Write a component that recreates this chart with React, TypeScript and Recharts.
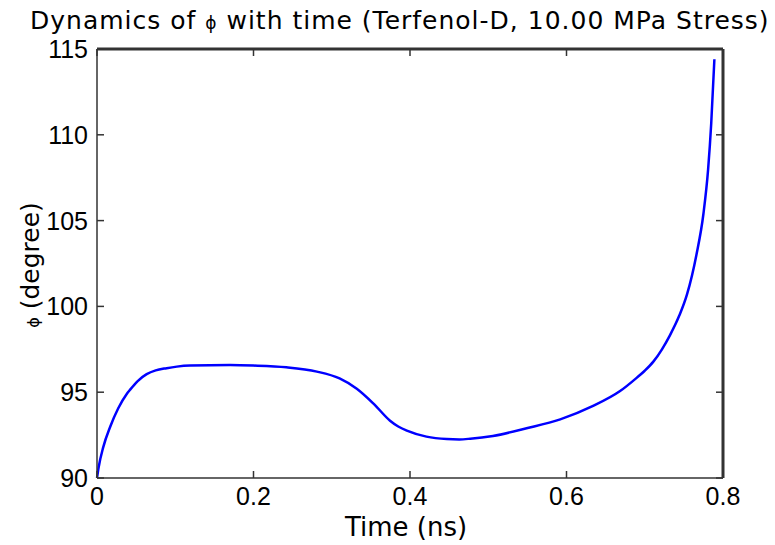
import { LineChart, Line, XAxis, YAxis, CartesianGrid } from 'recharts';

// phi(t)
const TIME_NS = [
  0, 0.002, 0.008, 0.017, 0.027, 0.038, 0.042, 0.052, 0.0635, 0.075, 0.089,
  0.102, 0.119, 0.17, 0.2, 0.242, 0.281, 0.31, 0.332, 0.353, 0.3745, 0.385,
  0.396, 0.421, 0.447, 0.463, 0.477, 0.506, 0.549, 0.592, 0.634, 0.668, 0.69,
  0.7, 0.711, 0.722, 0.732, 0.744, 0.754, 0.766, 0.775, 0.781, 0.785, 0.789,
];
const PHI_DEG = [
  90.0, 90.6, 91.8, 93.0, 94.05, 94.9, 95.13, 95.65, 96.05, 96.27, 96.4,
  96.49, 96.55, 96.58, 96.55, 96.45, 96.2, 95.8, 95.2, 94.35, 93.34, 93.0,
  92.76, 92.41, 92.27, 92.25, 92.29, 92.45, 92.9, 93.42, 94.2, 95.05, 95.85,
  96.25, 96.78, 97.5, 98.3, 99.45, 100.7, 103.0, 105.4, 108.0, 110.7, 114.4,
];
const X_TICKS = [0, 0.2, 0.4, 0.6, 0.8];
const Y_TICKS = [90, 95, 100, 105, 110, 115];
const X_MAX = 0.8;
const Y_MAX = 115;

const data = TIME_NS.map((t, i) => ({ t, phi: PHI_DEG[i] }));

const W = 775;
const H = 545;
const MARGIN = { top: 49, right: 52, bottom: 0, left: 37 };
const Y_AXIS_W = 60;
const X_AXIS_H = 67;
const PLOT_W = W - MARGIN.left - MARGIN.right - Y_AXIS_W;
const PLOT_H = H - MARGIN.top - MARGIN.bottom - X_AXIS_H;

const AXIS = '#333';
const AXIS_W = 1.5;
const TICK_LEN = 7;
const TICK_FONT = '"Liberation Sans", Arial, sans-serif';
const LABEL_FONT = '"DejaVu Sans", Verdana, sans-serif';

const fmtX = (v: number) => (v === 0 ? '0' : String(v));

// bottom tick + mirrored tick on the top edge
function BottomTick({ x, y, payload }: any) {
  const top = y - PLOT_H;
  return (
    <g>
      <line x1={x} y1={y} x2={x} y2={y - TICK_LEN} stroke={AXIS} strokeWidth={AXIS_W} />
      <line x1={x} y1={top} x2={x} y2={top + TICK_LEN} stroke={AXIS} strokeWidth={AXIS_W} />
      <text x={x} y={y + 27} textAnchor="middle" fontSize={25} fontFamily={TICK_FONT} fill="#000">
        {fmtX(payload.value)}
      </text>
    </g>
  );
}

// left tick + mirrored tick on the right edge
function LeftTick({ x, y, payload }: any) {
  const right = x + PLOT_W;
  return (
    <g>
      <line x1={x} y1={y} x2={x + TICK_LEN} y2={y} stroke={AXIS} strokeWidth={AXIS_W} />
      <line x1={right} y1={y} x2={right - TICK_LEN} y2={y} stroke={AXIS} strokeWidth={AXIS_W} />
      <text x={x - 9} y={y + 9} textAnchor="end" fontSize={25} fontFamily={TICK_FONT} fill="#000">
        {payload.value}
      </text>
    </g>
  );
}

export default function App() {
  return (
    <div style={{ position: 'absolute', left: 0, top: 0, width: W, height: H, background: '#fff' }}>
      <div
        style={{
          position: 'absolute', left: 30, top: 6,
          fontFamily: LABEL_FONT, fontSize: 25, letterSpacing: 1, color: '#000', whiteSpace: 'nowrap',
        }}
      >
        Dynamics of <span style={{ fontSize: 17 }}>ϕ</span> with time (Terfenol-D, 10.00 MPa Stress)
      </div>
      <div
        style={{
          position: 'absolute', left: 406, top: 512, transform: 'translateX(-50%)',
          fontFamily: LABEL_FONT, fontSize: 26, color: '#000', whiteSpace: 'nowrap',
        }}
      >
        Time (ns)
      </div>
      <div
        style={{
          position: 'absolute', left: 30, top: 265, transform: 'translate(-50%, -50%) rotate(-90deg)',
          fontFamily: LABEL_FONT, fontSize: 25, color: '#000', whiteSpace: 'nowrap',
        }}
      >
        <span style={{ fontSize: 16 }}>ϕ</span> (degree)
      </div>
      <LineChart
        width={W}
        height={H}
        data={data}
        margin={MARGIN}
        style={{ position: 'absolute', left: 0, top: 0 }}
      >
        {/* box frame: top and right edges */}
        <CartesianGrid horizontalValues={[Y_MAX]} verticalValues={[X_MAX]} stroke={AXIS} strokeWidth={3} />
        <XAxis
          dataKey="t" type="number" domain={[0, X_MAX]} ticks={X_TICKS}
          height={X_AXIS_H} tickSize={0} tickMargin={0} tickLine={false}
          axisLine={{ stroke: AXIS, strokeWidth: AXIS_W }} tick={<BottomTick />} interval={0}
        />
        <YAxis
          type="number" domain={[90, Y_MAX]} ticks={Y_TICKS}
          width={Y_AXIS_W} tickSize={0} tickMargin={0} tickLine={false}
          axisLine={{ stroke: AXIS, strokeWidth: AXIS_W }} tick={<LeftTick />} interval={0}
        />
        <Line
          dataKey="phi" type="monotone" stroke="#0000ff"
          strokeWidth={2.5} dot={false} isAnimationActive={false}
        />
      </LineChart>
    </div>
  );
}
